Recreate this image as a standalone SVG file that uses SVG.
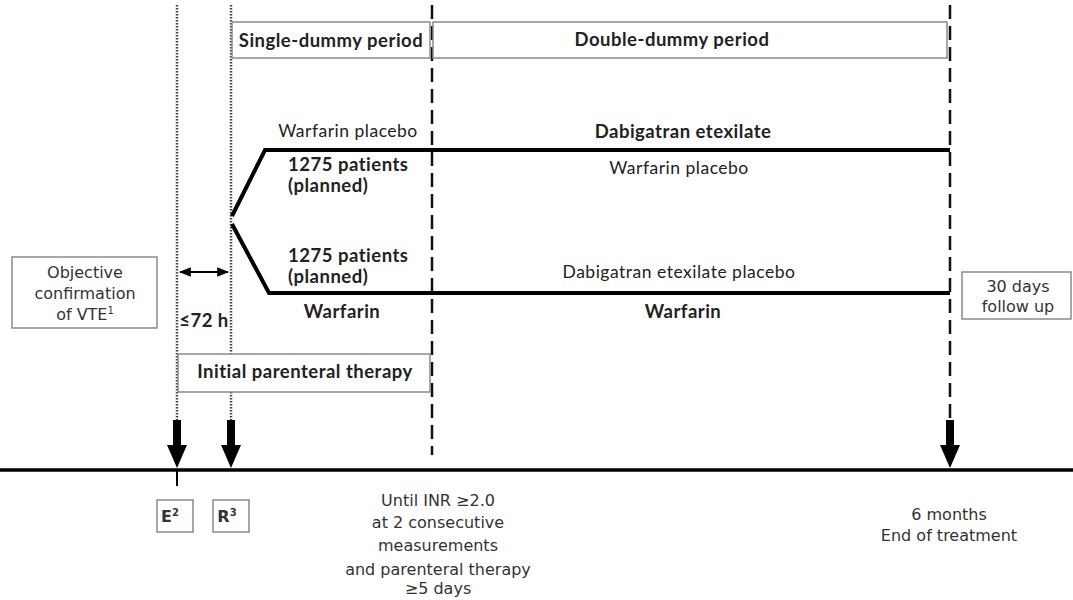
<svg xmlns="http://www.w3.org/2000/svg" width="1073" height="600" viewBox="0 0 1073 600">
<style>
.bx{fill:#fff;stroke:#8a8a8a;stroke-width:1.5}
.cb{font-family:Lato,"Liberation Sans",sans-serif;font-weight:bold;fill:#222;font-size:18.5px;letter-spacing:0.5px}
.cr{font-family:Lato,"Liberation Sans",sans-serif;fill:#222;font-size:17.5px;letter-spacing:0.5px}
.ar{font-family:"DejaVu Sans","Liberation Sans",sans-serif;fill:#333;font-size:16px}
.dot{stroke:#444;stroke-width:2.5;stroke-dasharray:1.5 1.5;fill:none}
.dash{stroke:#111;stroke-width:2.5;stroke-dasharray:14 7;fill:none}
.arm{stroke:#000;stroke-width:4;fill:none;stroke-linejoin:miter}
.sup{font-size:10px}
</style>
<defs>
<marker id="ah" viewBox="0 0 10 10" refX="9" refY="5" markerWidth="6" markerHeight="6" orient="auto-start-reverse">
<path d="M0,1 L10,5 L0,9 z" fill="#000"/>
</marker>
<g id="bigarrow">
<rect x="-4" y="0" width="8" height="26" fill="#000"/>
<polygon points="-10,25 10,25 0,48" fill="#000"/>
</g>
</defs>
<rect width="1073" height="600" fill="#fff"/>
<g id="connectors">
<line class="dot" x1="177" y1="5" x2="177" y2="422"/>
<line class="dot" x1="231" y1="5" x2="231" y2="422"/>
<line class="dash" x1="432" y1="5" x2="432" y2="455"/>
<line class="dash" x1="950" y1="5" x2="950" y2="422"/>
<line x1="0" y1="470" x2="1073" y2="470" stroke="#000" stroke-width="3.5"/>
<line x1="177" y1="470" x2="177" y2="486" stroke="#000" stroke-width="2"/>
<use href="#bigarrow" x="177" y="420"/>
<use href="#bigarrow" x="231" y="420"/>
<use href="#bigarrow" x="950" y="420"/>
<polyline class="arm" points="232,216 265,150 950,150"/>
<polyline class="arm" points="232,224 269,293 950,293"/>
<line x1="180" y1="272" x2="228" y2="272" stroke="#000" stroke-width="2" marker-start="url(#ah)" marker-end="url(#ah)"/>
</g>
<g id="single-dummy">
<rect class="bx" x="232" y="22" width="198" height="36"/>
<text class="cb" x="331" y="47" text-anchor="middle">Single-dummy period</text>
</g>
<g id="double-dummy">
<rect class="bx" x="433" y="22" width="514" height="36"/>
<text class="cb" x="672" y="46" text-anchor="middle">Double-dummy period</text>
</g>
<g id="arm-dabigatran">
<text class="cr" x="348" y="137" text-anchor="middle">Warfarin placebo</text>
<text class="cb" x="683" y="138" text-anchor="middle">Dabigatran etexilate</text>
<text class="cb" x="288" y="171" letter-spacing="0.2">1275 patients</text>
<text class="cb" x="288" y="192" letter-spacing="0.2">(planned)</text>
<text class="cr" x="679" y="174" text-anchor="middle">Warfarin placebo</text>
</g>
<g id="arm-warfarin">
<text class="cb" x="288" y="262" letter-spacing="0.2">1275 patients</text>
<text class="cb" x="288" y="283" letter-spacing="0.2">(planned)</text>
<text class="cr" x="679" y="278" text-anchor="middle">Dabigatran etexilate placebo</text>
<text class="cb" x="342" y="318" text-anchor="middle">Warfarin</text>
<text class="cb" x="683" y="318" text-anchor="middle">Warfarin</text>
</g>
<g id="objective">
<rect class="bx" x="12" y="257" width="145" height="71"/>
<text class="ar" x="85" y="278" text-anchor="middle">Objective</text>
<text class="ar" x="85" y="299" text-anchor="middle">confirmation</text>
<text class="ar" x="85" y="320" text-anchor="middle">of VTE<tspan class="sup" dy="-6">1</tspan></text>
</g>
<g id="window">
<text class="cb" x="204" y="327" text-anchor="middle" letter-spacing="0">≤72 h</text>
</g>
<g id="initial-parenteral">
<rect class="bx" x="178" y="354" width="252" height="38"/>
<text class="cb" x="305" y="378" text-anchor="middle">Initial parenteral therapy</text>
</g>
<g id="follow-up">
<rect class="bx" x="962" y="272" width="109" height="47"/>
<text class="ar" x="1018" y="292" text-anchor="middle">30 days</text>
<text class="ar" x="1018" y="312" text-anchor="middle">follow up</text>
</g>
<g id="E">
<rect class="bx" x="157" y="500" width="36" height="32"/>
<text class="ar" x="170" y="522" font-weight="bold" text-anchor="middle">E<tspan class="sup" dy="-6">2</tspan></text>
</g>
<g id="R">
<rect class="bx" x="213" y="500" width="36" height="32"/>
<text class="ar" x="227" y="522" font-weight="bold" text-anchor="middle">R<tspan class="sup" dy="-6">3</tspan></text>
</g>
<g id="inr">
<text class="ar" x="438" y="506" text-anchor="middle">Until INR ≥2.0</text>
<text class="ar" x="438" y="528" text-anchor="middle">at 2 consecutive</text>
<text class="ar" x="438" y="551" text-anchor="middle">measurements</text>
<text class="ar" x="438" y="575" text-anchor="middle">and parenteral therapy</text>
<text class="ar" x="438" y="594" text-anchor="middle">≥5 days</text>
</g>
<g id="end">
<text class="ar" x="949" y="520" text-anchor="middle">6 months</text>
<text class="ar" x="949" y="541" text-anchor="middle">End of treatment</text>
</g>
</svg>
